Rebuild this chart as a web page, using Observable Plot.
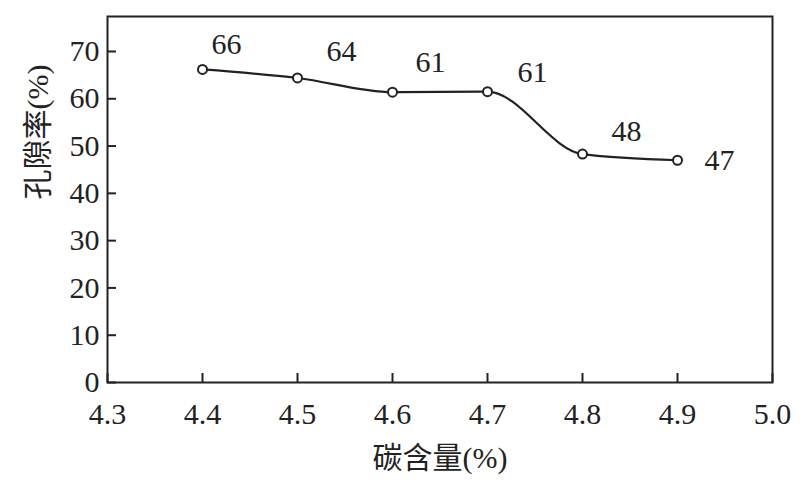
<!DOCTYPE html>
<html>
<head>
<meta charset="utf-8">
<script src="https://cdn.jsdelivr.net/npm/d3@7"></script>
<script src="https://cdn.jsdelivr.net/npm/@observablehq/plot@0.6"></script>
<style>
  html, body { margin: 0; padding: 0; background: #fff; }
  #chart svg { display: block; }
</style>
</head>
<body>
<div id="chart"></div>
<script>
const carbon = [4.4, 4.5, 4.6, 4.7, 4.8, 4.9];
const porosity = [66.2, 64.4, 61.4, 61.5, 48.3, 47.0];
const pointLabels = ["66", "64", "61", "61", "48", "47"];
const xTicks = [4.3, 4.4, 4.5, 4.6, 4.7, 4.8, 4.9, 5.0];
const yTicks = [0, 10, 20, 30, 40, 50, 60, 70];
const xTitle = "碳含量(%)";
const yTitle = "孔隙率(%)";

const data = carbon.map((c, i) => ({x: c, y: porosity[i], label: pointLabels[i], i}));

const ink = "#222";
const serif = "Liberation Serif, DejaVu Serif, serif";
const cjk = "Liberation Serif, Noto Sans CJK SC, serif";

const offs = [[24, -25], [44, -27], [38, -30], [45, -19], [44, -23], [42, 0]];
const labelMarks = offs.map(([dx, dy], k) =>
  Plot.text(data.filter(d => d.i === k), {x: "x", y: "y", text: "label", dx, dy,
    fontSize: 30, fontFamily: serif, fill: ink, textAnchor: "middle", lineAnchor: "middle"}));

const chart = Plot.plot({
  width: 809,
  height: 484,
  marginLeft: 107,
  marginRight: 37,
  marginTop: 16,
  marginBottom: 102,
  style: {fontFamily: serif, color: ink, background: "#fff"},
  x: {domain: [4.3, 5.0]},
  y: {domain: [0, 77.4]},
  marks: [
    Plot.frame({stroke: ink, strokeWidth: 2}),
    Plot.axisX({ticks: xTicks, tickFormat: d => d.toFixed(1), tickSize: -9, tickPadding: 29,
      fontSize: 30, fontFamily: serif, stroke: ink, strokeWidth: 2, label: null}),
    Plot.axisY({ticks: yTicks, tickFormat: d => String(d), tickSize: -9, tickPadding: 17,
      fontSize: 30, fontFamily: serif, stroke: ink, strokeWidth: 2, label: null}),
    Plot.line(data, {x: "x", y: "y", curve: "monotone-x", stroke: ink, strokeWidth: 2.2}),
    Plot.dot(data, {x: "x", y: "y", r: 4.5, fill: "#fff", stroke: ink, strokeWidth: 2}),
    ...labelMarks,
    Plot.text([xTitle], {frameAnchor: "bottom", dy: 76, text: d => d, fontSize: 30, fontFamily: cjk,
      fill: ink, lineAnchor: "middle"}),
    Plot.text([yTitle], {frameAnchor: "left", dx: -69, rotate: -90, text: d => d, fontSize: 30,
      fontFamily: cjk, fill: ink, lineAnchor: "middle"})
  ]
});
document.getElementById("chart").append(chart);
</script>
</body>
</html>
